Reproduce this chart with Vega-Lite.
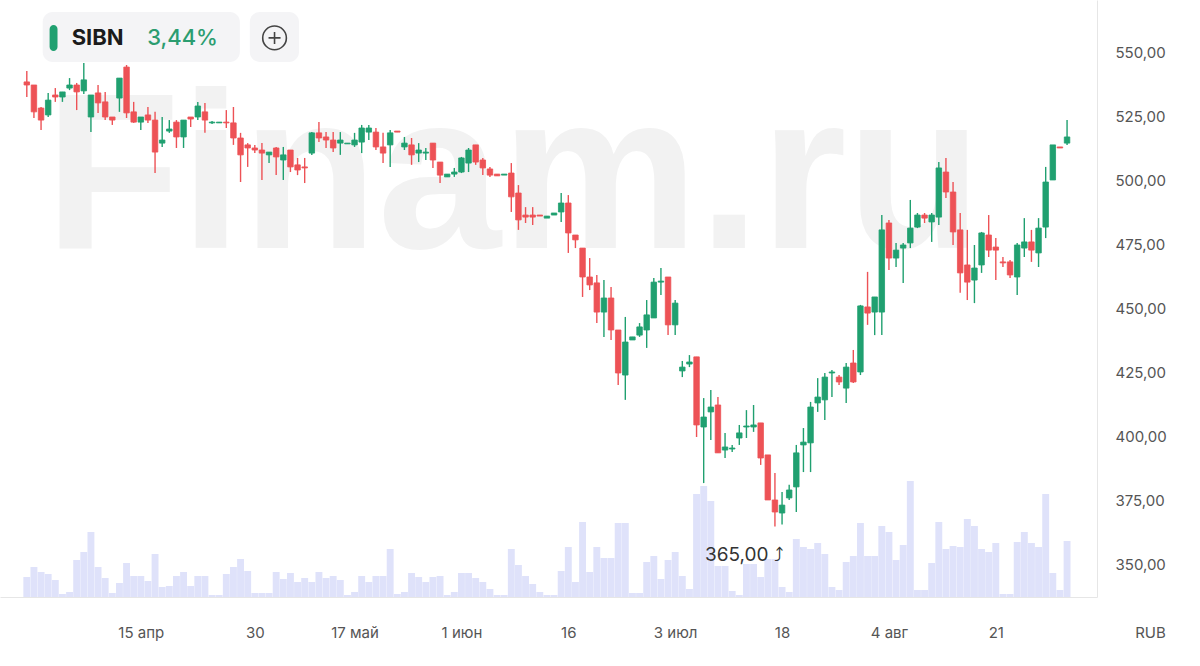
{
  "$schema": "https://vega.github.io/schema/vega-lite/v6.json",
  "width": 1097,
  "height": 597,
  "autosize": "none",
  "padding": {"left": 0, "top": 0, "right": 103, "bottom": 69},
  "background": "white",
  "config": {
    "view": {"stroke": null},
    "font": "Inter",
    "axis": {"grid": false, "ticks": false, "domainColor": "#e6e6e6", "labelColor": "#555555", "labelFontSize": 15, "labelFont": "Inter"}
  },
  "data": {"values": [
    {"i":0,"o":538.7,"h":543.0,"l":532.8,"c":537.5,"v":20},
    {"i":1,"o":537.5,"h":537.5,"l":524.6,"c":527.0,"v":30},
    {"i":2,"o":528.5,"h":528.9,"l":519.9,"c":523.8,"v":25},
    {"i":3,"o":525.8,"h":534.4,"l":525.0,"c":531.6,"v":23},
    {"i":4,"o":533.6,"h":536.3,"l":530.9,"c":532.8,"v":17},
    {"i":5,"o":532.8,"h":534.8,"l":530.9,"c":534.8,"v":3},
    {"i":6,"o":536.3,"h":540.2,"l":535.5,"c":537.5,"v":5},
    {"i":7,"o":537.5,"h":538.3,"l":527.7,"c":534.8,"v":37},
    {"i":8,"o":535.2,"h":546.1,"l":534.0,"c":539.5,"v":45},
    {"i":9,"o":525.0,"h":533.6,"l":519.1,"c":533.6,"v":65},
    {"i":10,"o":534.4,"h":537.5,"l":526.6,"c":530.5,"v":30},
    {"i":11,"o":530.9,"h":534.8,"l":523.8,"c":525.0,"v":19},
    {"i":12,"o":525.0,"h":525.0,"l":521.9,"c":523.8,"v":4},
    {"i":13,"o":532.4,"h":540.2,"l":527.0,"c":540.2,"v":14},
    {"i":14,"o":544.5,"h":545.3,"l":524.6,"c":526.6,"v":34},
    {"i":15,"o":527.0,"h":530.9,"l":522.7,"c":523.0,"v":21},
    {"i":16,"o":523.0,"h":525.0,"l":519.9,"c":525.0,"v":21},
    {"i":17,"o":525.8,"h":528.9,"l":522.7,"c":523.8,"v":16},
    {"i":18,"o":523.8,"h":527.0,"l":503.1,"c":511.3,"v":43},
    {"i":19,"o":514.8,"h":525.0,"l":513.3,"c":516.0,"v":10},
    {"i":20,"o":519.5,"h":523.8,"l":518.8,"c":520.3,"v":11},
    {"i":21,"o":523.0,"h":523.8,"l":512.9,"c":517.2,"v":21},
    {"i":22,"o":517.2,"h":523.8,"l":512.9,"c":523.8,"v":25},
    {"i":23,"o":525.0,"h":525.0,"l":521.1,"c":524.2,"v":11},
    {"i":24,"o":525.0,"h":530.9,"l":523.8,"c":529.3,"v":21},
    {"i":25,"o":527.0,"h":530.5,"l":518.8,"c":523.8,"v":21},
    {"i":26,"o":522.7,"h":523.4,"l":522.3,"c":523.0,"v":2},
    {"i":27,"o":522.7,"h":523.0,"l":522.7,"c":523.0,"v":2},
    {"i":28,"o":523.0,"h":527.7,"l":520.7,"c":522.7,"v":23},
    {"i":29,"o":522.7,"h":528.9,"l":514.1,"c":516.8,"v":30},
    {"i":30,"o":516.8,"h":518.8,"l":499.6,"c":510.2,"v":38},
    {"i":31,"o":514.1,"h":514.8,"l":505.5,"c":512.9,"v":26},
    {"i":32,"o":512.9,"h":514.1,"l":510.9,"c":512.1,"v":4},
    {"i":33,"o":512.1,"h":514.8,"l":500.4,"c":510.9,"v":4},
    {"i":34,"o":510.2,"h":511.3,"l":507.0,"c":511.3,"v":4},
    {"i":35,"o":512.9,"h":513.3,"l":502.3,"c":509.4,"v":25},
    {"i":36,"o":508.2,"h":513.3,"l":500.4,"c":510.2,"v":18},
    {"i":37,"o":512.1,"h":512.1,"l":503.5,"c":505.5,"v":24},
    {"i":38,"o":506.3,"h":509.0,"l":502.3,"c":504.3,"v":15},
    {"i":39,"o":505.5,"h":509.0,"l":499.2,"c":505.1,"v":19},
    {"i":40,"o":510.9,"h":519.1,"l":510.2,"c":518.8,"v":15},
    {"i":41,"o":518.8,"h":523.0,"l":515.2,"c":516.8,"v":25},
    {"i":42,"o":517.2,"h":519.1,"l":512.9,"c":516.0,"v":19},
    {"i":43,"o":516.0,"h":519.1,"l":511.3,"c":512.9,"v":21},
    {"i":44,"o":514.8,"h":519.1,"l":510.2,"c":516.0,"v":17},
    {"i":45,"o":514.5,"h":514.8,"l":514.5,"c":514.8,"v":2},
    {"i":46,"o":514.1,"h":518.8,"l":513.3,"c":516.0,"v":5},
    {"i":47,"o":515.2,"h":521.9,"l":510.9,"c":520.7,"v":21},
    {"i":48,"o":519.1,"h":521.9,"l":516.0,"c":520.7,"v":15},
    {"i":49,"o":519.1,"h":520.7,"l":512.1,"c":513.3,"v":21},
    {"i":50,"o":513.3,"h":518.8,"l":507.0,"c":510.9,"v":21},
    {"i":51,"o":514.1,"h":519.9,"l":505.5,"c":518.8,"v":48},
    {"i":52,"o":519.5,"h":519.5,"l":519.1,"c":519.1,"v":3},
    {"i":53,"o":513.3,"h":517.2,"l":512.1,"c":514.8,"v":5},
    {"i":54,"o":514.1,"h":516.8,"l":506.3,"c":510.2,"v":24},
    {"i":55,"o":510.9,"h":514.8,"l":507.4,"c":512.1,"v":20},
    {"i":56,"o":510.9,"h":512.9,"l":508.2,"c":511.3,"v":15},
    {"i":57,"o":514.8,"h":514.8,"l":505.1,"c":508.2,"v":20},
    {"i":58,"o":507.4,"h":507.4,"l":499.2,"c":502.3,"v":21},
    {"i":59,"o":501.6,"h":502.7,"l":501.6,"c":502.7,"v":2},
    {"i":60,"o":502.7,"h":505.1,"l":501.6,"c":503.5,"v":5},
    {"i":61,"o":503.5,"h":509.4,"l":503.1,"c":509.0,"v":24},
    {"i":62,"o":507.0,"h":512.9,"l":503.5,"c":512.1,"v":24},
    {"i":63,"o":514.1,"h":514.1,"l":506.3,"c":507.4,"v":19},
    {"i":64,"o":508.2,"h":509.0,"l":502.3,"c":505.1,"v":15},
    {"i":65,"o":504.7,"h":505.5,"l":501.6,"c":502.3,"v":8},
    {"i":66,"o":502.7,"h":502.7,"l":502.0,"c":502.0,"v":2},
    {"i":67,"o":502.3,"h":502.7,"l":502.3,"c":502.7,"v":2},
    {"i":68,"o":503.1,"h":507.0,"l":487.9,"c":493.8,"v":48},
    {"i":69,"o":495.3,"h":498.4,"l":480.9,"c":484.8,"v":32},
    {"i":70,"o":486.7,"h":489.8,"l":483.6,"c":485.9,"v":21},
    {"i":71,"o":486.7,"h":489.8,"l":482.8,"c":485.9,"v":13},
    {"i":72,"o":486.7,"h":486.7,"l":486.3,"c":486.3,"v":5},
    {"i":73,"o":485.5,"h":486.3,"l":485.5,"c":486.3,"v":2},
    {"i":74,"o":486.7,"h":487.5,"l":486.7,"c":487.5,"v":2},
    {"i":75,"o":487.9,"h":495.3,"l":484.0,"c":491.4,"v":26},
    {"i":76,"o":491.4,"h":494.5,"l":471.9,"c":479.7,"v":50},
    {"i":77,"o":478.9,"h":478.9,"l":473.8,"c":477.0,"v":15},
    {"i":78,"o":473.8,"h":473.8,"l":454.7,"c":462.5,"v":75},
    {"i":79,"o":462.5,"h":469.9,"l":457.4,"c":459.4,"v":25},
    {"i":80,"o":460.2,"h":463.3,"l":444.5,"c":448.8,"v":50},
    {"i":81,"o":448.8,"h":461.3,"l":439.1,"c":454.3,"v":39},
    {"i":82,"o":454.3,"h":458.6,"l":437.9,"c":441.8,"v":39},
    {"i":83,"o":441.8,"h":441.8,"l":420.3,"c":425.0,"v":74},
    {"i":84,"o":424.2,"h":446.9,"l":414.5,"c":437.1,"v":74},
    {"i":85,"o":437.9,"h":439.1,"l":437.9,"c":439.1,"v":4},
    {"i":86,"o":439.8,"h":444.5,"l":439.1,"c":443.0,"v":4},
    {"i":87,"o":441.8,"h":453.5,"l":434.8,"c":447.7,"v":35},
    {"i":88,"o":446.5,"h":462.1,"l":446.5,"c":460.5,"v":41},
    {"i":89,"o":460.5,"h":466.0,"l":455.5,"c":460.9,"v":18},
    {"i":90,"o":462.5,"h":462.5,"l":439.8,"c":443.8,"v":37},
    {"i":91,"o":443.8,"h":453.5,"l":439.8,"c":452.3,"v":45},
    {"i":92,"o":425.8,"h":429.7,"l":423.4,"c":427.3,"v":21},
    {"i":93,"o":428.5,"h":432.0,"l":427.3,"c":429.3,"v":8},
    {"i":94,"o":431.3,"h":431.3,"l":400.0,"c":404.7,"v":103},
    {"i":95,"o":403.9,"h":415.2,"l":382.0,"c":407.8,"v":111},
    {"i":96,"o":409.8,"h":418.4,"l":398.8,"c":411.7,"v":96},
    {"i":97,"o":412.5,"h":415.6,"l":393.8,"c":393.8,"v":31},
    {"i":98,"o":394.9,"h":401.6,"l":391.8,"c":396.1,"v":31},
    {"i":99,"o":395.3,"h":396.9,"l":394.1,"c":395.7,"v":6},
    {"i":100,"o":399.6,"h":404.7,"l":396.9,"c":401.6,"v":2},
    {"i":101,"o":403.9,"h":410.5,"l":399.6,"c":404.3,"v":33},
    {"i":102,"o":403.9,"h":412.5,"l":402.0,"c":404.7,"v":33},
    {"i":103,"o":405.5,"h":405.5,"l":389.1,"c":391.8,"v":20},
    {"i":104,"o":393.0,"h":393.0,"l":375.4,"c":375.4,"v":38},
    {"i":105,"o":375.4,"h":385.9,"l":365.0,"c":370.7,"v":38},
    {"i":106,"o":370.3,"h":378.5,"l":365.8,"c":373.4,"v":10},
    {"i":107,"o":376.2,"h":381.3,"l":375.4,"c":379.3,"v":5},
    {"i":108,"o":380.5,"h":396.9,"l":370.7,"c":393.8,"v":58},
    {"i":109,"o":396.9,"h":403.5,"l":386.3,"c":398.0,"v":50},
    {"i":110,"o":397.7,"h":413.7,"l":386.3,"c":411.7,"v":48},
    {"i":111,"o":413.3,"h":423.0,"l":409.8,"c":415.6,"v":54},
    {"i":112,"o":414.5,"h":425.0,"l":406.6,"c":423.4,"v":43},
    {"i":113,"o":425.0,"h":426.2,"l":415.6,"c":425.4,"v":10},
    {"i":114,"o":423.4,"h":424.2,"l":420.3,"c":421.5,"v":7},
    {"i":115,"o":419.1,"h":428.9,"l":413.3,"c":427.3,"v":35},
    {"i":116,"o":428.9,"h":434.0,"l":421.1,"c":421.5,"v":41},
    {"i":117,"o":425.4,"h":451.6,"l":424.2,"c":451.2,"v":74},
    {"i":118,"o":450.8,"h":464.5,"l":443.8,"c":448.4,"v":41},
    {"i":119,"o":448.8,"h":454.7,"l":439.8,"c":454.7,"v":41},
    {"i":120,"o":448.8,"h":486.7,"l":439.8,"c":480.9,"v":71},
    {"i":121,"o":483.6,"h":484.8,"l":465.2,"c":469.9,"v":65},
    {"i":122,"o":469.9,"h":475.8,"l":466.4,"c":473.0,"v":37},
    {"i":123,"o":473.8,"h":475.8,"l":460.2,"c":475.0,"v":52},
    {"i":124,"o":475.8,"h":492.6,"l":473.8,"c":481.6,"v":116},
    {"i":125,"o":482.0,"h":487.5,"l":481.6,"c":486.7,"v":7},
    {"i":126,"o":486.7,"h":487.5,"l":483.6,"c":485.5,"v":7},
    {"i":127,"o":484.0,"h":487.5,"l":476.2,"c":486.7,"v":34},
    {"i":128,"o":485.9,"h":507.4,"l":482.8,"c":505.1,"v":75},
    {"i":129,"o":503.5,"h":509.0,"l":493.4,"c":495.7,"v":48},
    {"i":130,"o":495.7,"h":499.6,"l":475.0,"c":480.1,"v":51},
    {"i":131,"o":480.9,"h":487.5,"l":456.3,"c":464.1,"v":50},
    {"i":132,"o":467.2,"h":480.9,"l":453.5,"c":460.5,"v":78},
    {"i":133,"o":461.3,"h":475.0,"l":452.3,"c":466.0,"v":71},
    {"i":134,"o":467.2,"h":480.1,"l":464.1,"c":479.7,"v":48},
    {"i":135,"o":478.9,"h":486.7,"l":470.3,"c":473.0,"v":45},
    {"i":136,"o":474.2,"h":477.7,"l":461.3,"c":473.0,"v":54},
    {"i":137,"o":468.4,"h":470.3,"l":466.4,"c":468.0,"v":3},
    {"i":138,"o":468.4,"h":469.1,"l":462.1,"c":463.3,"v":3},
    {"i":139,"o":462.5,"h":475.8,"l":455.5,"c":475.0,"v":55},
    {"i":140,"o":473.8,"h":485.5,"l":470.3,"c":476.2,"v":65},
    {"i":141,"o":476.2,"h":480.9,"l":468.4,"c":473.0,"v":54},
    {"i":142,"o":471.9,"h":485.5,"l":466.4,"c":481.6,"v":50},
    {"i":143,"o":482.0,"h":505.5,"l":477.7,"c":499.6,"v":103},
    {"i":144,"o":500.4,"h":514.1,"l":500.4,"c":514.1,"v":24},
    {"i":145,"o":513.3,"h":513.3,"l":512.9,"c":512.9,"v":7},
    {"i":146,"o":514.8,"h":523.8,"l":514.1,"c":517.2,"v":56}
  ]},
  "layer": [
    {
      "mark": {"type": "bar", "size": 6.9, "color": "#dfe2fa"},
      "encoding": {
        "x": {
          "field": "i",
          "type": "quantitative",
          "scale": {"domain": [-3.06, 149.5], "nice": false, "zero": false},
          "axis": {
            "title": null,
            "values": [16, 32, 46, 61, 76, 91, 106, 121, 136],
            "labelExpr": "['15 апр','30','17 май','1 июн','16','3 июл','18','4 авг','21'][indexof([16,32,46,61,76,91,106,121,136], datum.value)]",
            "labelPadding": 35,
            "labelBaseline": "middle",
            "labelFlush": false
          }
        },
        "y": {"field": "v", "type": "quantitative", "scale": {"domain": [0, 597], "nice": false}, "axis": null}
      }
    },
    {
      "layer": [
        {
          "data": {"values": [{}]},
          "mark": {"type": "text", "text": "Finam.ru", "font": "Liberation Sans", "fontWeight": "bold", "fontSize": 222, "color": "#f2f2f2", "align": "center", "baseline": "alphabetic"},
          "encoding": {
            "x": {"datum": 68.3, "type": "quantitative"},
            "y": {"datum": 473.8, "type": "quantitative"}
          }
        },
        {
          "mark": {"type": "rule", "strokeWidth": 1.4},
          "encoding": {
            "x": {"field": "i", "type": "quantitative"},
            "y": {
              "field": "l",
              "type": "quantitative",
              "title": "RUB",
              "scale": {"domain": [337.5, 570.7], "nice": false, "zero": false},
              "axis": {
                "orient": "right",
                "values": [350, 375, 400, 425, 450, 475, 500, 525, 550],
                "labelExpr": "replace(format(datum.value, '.2f'), '.', ',')",
                "labelAlign": "left",
                "labelPadding": 18,
                "title": "RUB",
                "titleAngle": 0,
                "titleX": 53,
                "titleY": 632,
                "titleAlign": "center",
                "titleBaseline": "middle",
                "titleFontWeight": "normal",
                "titleFontSize": 15,
                "titleColor": "#555555",
                "titleFont": "Inter"
              }
            },
            "y2": {"field": "h"},
            "color": {"condition": {"test": "datum.c >= datum.o", "value": "#20a070"}, "value": "#ed5256"}
          }
        },
        {
          "mark": {"type": "bar", "size": 5.5, "strokeWidth": 0.8},
          "encoding": {
            "x": {"field": "i", "type": "quantitative"},
            "y": {"field": "o", "type": "quantitative", "title": "RUB"},
            "y2": {"field": "c"},
            "color": {"condition": {"test": "datum.c >= datum.o", "value": "#20a070"}, "value": "#ed5256"},
            "stroke": {"condition": {"test": "datum.c >= datum.o", "value": "#20a070"}, "value": "#ed5256"}
          }
        },
        {
          "transform": [
            {"filter": "datum.l == 365"},
            {"calculate": "replace(format(datum.l, '.2f'), '.', ',') + '  ⤴'", "as": "lbl"}
          ],
          "mark": {"type": "text", "align": "right", "baseline": "middle", "dx": 9, "dy": 2, "fontSize": 19, "color": "#333333"},
          "encoding": {
            "x": {"field": "i", "type": "quantitative"},
            "y": {"datum": 354.7, "type": "quantitative"},
            "text": {"field": "lbl"}
          }
        },
        {
          "data": {"values": [{"box": "a", "x1": 2.23, "x2": 29.9}, {"box": "b", "x1": 31.3, "x2": 38.2}]},
          "mark": {"type": "rect", "color": "#f4f4f6", "cornerRadius": 10},
          "encoding": {
            "x": {"field": "x1", "type": "quantitative"},
            "x2": {"field": "x2"},
            "y": {"datum": 566.0, "type": "quantitative"},
            "y2": {"datum": 546.5}
          }
        },
        {
          "data": {"values": [{}]},
          "mark": {"type": "rect", "color": "#20a070", "cornerRadius": 4},
          "encoding": {
            "x": {"datum": 3.2, "type": "quantitative"},
            "x2": {"datum": 4.31},
            "y": {"datum": 560.9, "type": "quantitative"},
            "y2": {"datum": 550.8}
          }
        },
        {
          "data": {"values": [{}]},
          "mark": {"type": "text", "text": "SIBN", "fontSize": 22, "fontWeight": "bold", "color": "#1b1b1b", "align": "left", "baseline": "middle"},
          "encoding": {
            "x": {"datum": 6.3, "type": "quantitative"},
            "y": {"datum": 555.9, "type": "quantitative"}
          }
        },
        {
          "data": {"values": [{}]},
          "mark": {"type": "text", "text": "3,44%", "fontSize": 22, "fontWeight": 500, "color": "#2b9d70", "align": "left", "baseline": "middle"},
          "encoding": {
            "x": {"datum": 16.9, "type": "quantitative"},
            "y": {"datum": 555.9, "type": "quantitative"}
          }
        },
        {
          "data": {"values": [{}]},
          "mark": {"type": "point", "shape": "circle", "size": 560, "filled": false, "stroke": "#444444", "strokeWidth": 1.6, "opacity": 1},
          "encoding": {
            "x": {"datum": 34.77, "type": "quantitative"},
            "y": {"datum": 555.9, "type": "quantitative"}
          }
        },
        {
          "data": {"values": [{}]},
          "mark": {"type": "point", "shape": "M-1,0H1M0,-1V1", "size": 144, "filled": false, "stroke": "#444444", "strokeWidth": 1.6, "opacity": 1},
          "encoding": {
            "x": {"datum": 34.77, "type": "quantitative"},
            "y": {"datum": 555.9, "type": "quantitative"}
          }
        }
      ]
    }
  ],
  "resolve": {"scale": {"y": "independent"}}
}
